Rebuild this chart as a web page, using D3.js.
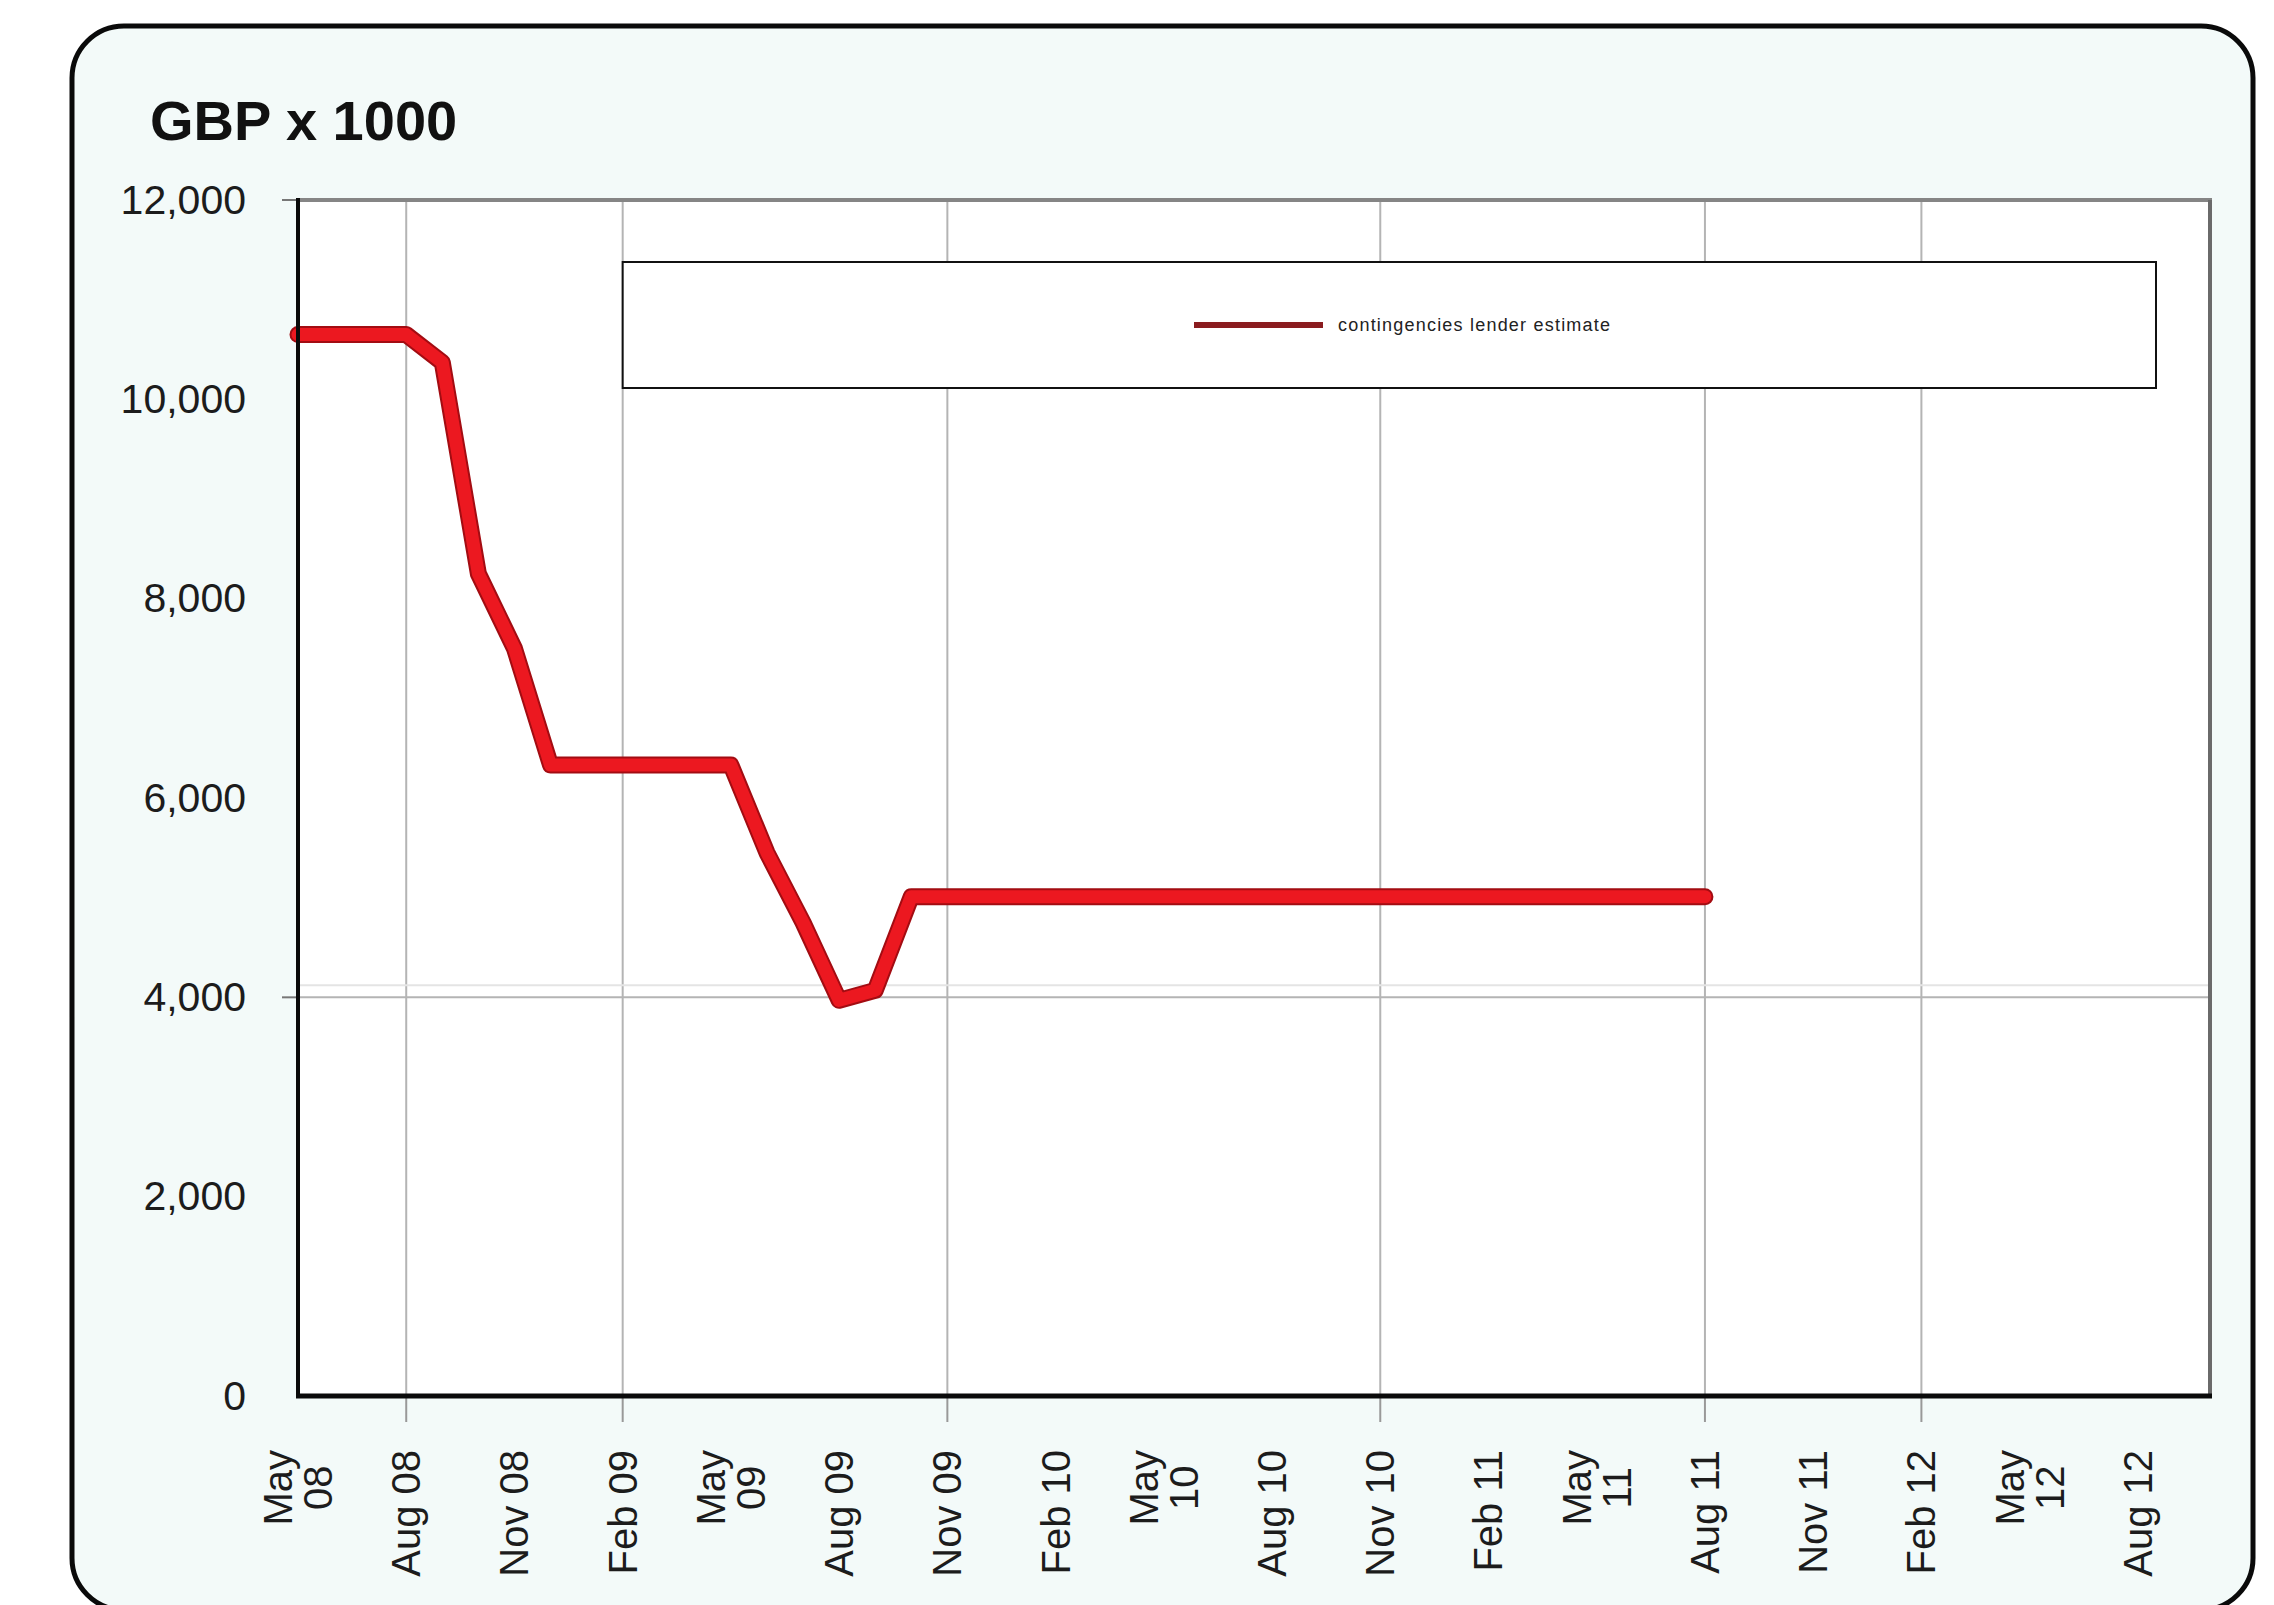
<!DOCTYPE html>
<html>
<head>
<meta charset="utf-8">
<script src="https://cdn.jsdelivr.net/npm/d3@7"></script>
<style>
  html, body { margin: 0; padding: 0; background: #ffffff; }
  svg { display: block; }
  text { font-family: "Liberation Sans", Arial, Helvetica, sans-serif; }
</style>
</head>
<body>
<script>
// ---------------- data ----------------
const months = [
  "2008-05","2008-06","2008-07","2008-08","2008-09","2008-10","2008-11","2008-12",
  "2009-01","2009-02","2009-03","2009-04","2009-05","2009-06","2009-07","2009-08",
  "2009-09","2009-10","2009-11","2009-12","2010-01","2010-02","2010-03","2010-04",
  "2010-05","2010-06","2010-07","2010-08","2010-09","2010-10","2010-11","2010-12",
  "2011-01","2011-02","2011-03","2011-04","2011-05","2011-06","2011-07","2011-08"
];
const values = [
  10650, 10650, 10650, 10650, 10370, 8250, 7500, 6330,
  6330, 6330, 6330, 6330, 6330, 5450, 4750, 3970,
  4070, 5010, 5010, 5010, 5010, 5010, 5010, 5010,
  5010, 5010, 5010, 5010, 5010, 5010, 5010, 5010,
  5010, 5010, 5010, 5010, 5010, 5010, 5010, 5010
];
const seriesName = "contingencies lender estimate";
const tickMonths = ["2008-05","2008-08","2008-11","2009-02","2009-05","2009-08","2009-11","2010-02",
  "2010-05","2010-08","2010-11","2011-02","2011-05","2011-08","2011-11","2012-02","2012-05","2012-08"];
const tickLabels = ["May\n08","Aug 08","Nov 08","Feb 09","May\n09","Aug 09","Nov 09","Feb 10",
  "May\n10","Aug 10","Nov 10","Feb 11","May\n11","Aug 11","Nov 11","Feb 12","May\n12","Aug 12"];
const gridMonths = ["2008-08","2009-02","2009-11","2010-11","2011-08","2012-02"];
const yTicks = [0, 2000, 4000, 6000, 8000, 10000, 12000];
const yGrid = [4000];
const title = "GBP x 1000";

// ---------------- helpers ----------------
const mIdx = s => { const [y, m] = s.split("-").map(Number); return (y - 2008) * 12 + (m - 5); };

const W = 2274, H = 1605;
const plot = { left: 298, right: 2210, top: 200, bottom: 1396 };

const svg = d3.select("body").append("svg").attr("width", W).attr("height", H);
svg.append("rect").attr("width", W).attr("height", H).attr("fill", "#ffffff");

// outer rounded frame
svg.append("rect")
  .attr("x", 72).attr("y", 26).attr("width", 2181).attr("height", 1584)
  .attr("rx", 52).attr("ry", 52)
  .attr("fill", "#f3faf9").attr("stroke", "#0a0a0a").attr("stroke-width", 5);

const x = d3.scaleLinear().domain([0, 53]).range([plot.left, plot.right]);
const y = d3.scaleLinear().domain([0, 12000]).range([plot.bottom, plot.top]);

// plot background
svg.append("rect")
  .attr("x", plot.left).attr("y", plot.top)
  .attr("width", plot.right - plot.left).attr("height", plot.bottom - plot.top)
  .attr("fill", "#ffffff");

// gridlines
const g = svg.append("g");
g.selectAll("line.vg").data(gridMonths).join("line")
  .attr("x1", d => x(mIdx(d))).attr("x2", d => x(mIdx(d)))
  .attr("y1", plot.top).attr("y2", plot.bottom)
  .attr("stroke", "#b4b4b4").attr("stroke-width", 2);
g.selectAll("line.hg2").data(yGrid).join("line")
  .attr("x1", plot.left).attr("x2", plot.right)
  .attr("y1", d => y(d) - 12).attr("y2", d => y(d) - 12)
  .attr("stroke", "#e4e4e4").attr("stroke-width", 2);
g.selectAll("line.hg").data(yGrid).join("line")
  .attr("x1", plot.left).attr("x2", plot.right)
  .attr("y1", d => y(d)).attr("y2", d => y(d))
  .attr("stroke", "#b4b4b4").attr("stroke-width", 2);

// legend box
const lg = svg.append("g");
lg.append("rect")
  .attr("x", x(mIdx("2009-02"))).attr("y", 262)
  .attr("width", 2156 - x(mIdx("2009-02"))).attr("height", 126)
  .attr("fill", "#ffffff").attr("stroke", "#111").attr("stroke-width", 2);
lg.append("line").attr("x1", 1194).attr("x2", 1323).attr("y1", 325).attr("y2", 325)
  .attr("stroke", "#8a1c1f").attr("stroke-width", 6);
lg.append("text").attr("x", 1338).attr("y", 331)
  .attr("font-size", 18).attr("textLength", 272).attr("lengthAdjust", "spacing")
  .attr("fill", "#222").text(seriesName);

// plot borders (top/right gray)
svg.append("line").attr("x1", plot.left).attr("x2", plot.right + 2)
  .attr("y1", plot.top).attr("y2", plot.top)
  .attr("stroke", "#858585").attr("stroke-width", 4);
svg.append("line").attr("x1", plot.right).attr("x2", plot.right)
  .attr("y1", plot.top).attr("y2", plot.bottom)
  .attr("stroke", "#6a6a6a").attr("stroke-width", 4);

// data line
const data = months.map((m, i) => ({ i: mIdx(m), v: values[i] }));
const line = d3.line().x(d => x(d.i)).y(d => y(d.v));
svg.append("path").datum(data).attr("d", line)
  .attr("fill", "none").attr("stroke", "#a30c12").attr("stroke-width", 17)
  .attr("stroke-linejoin", "round").attr("stroke-linecap", "round");
svg.append("path").datum(data).attr("d", line)
  .attr("fill", "none").attr("stroke", "#ec1820").attr("stroke-width", 13)
  .attr("stroke-linejoin", "round").attr("stroke-linecap", "round");

// y axis
const yAxis = d3.axisLeft(y).tickValues(yTicks).tickFormat(d3.format(",")).tickSize(0).tickPadding(52);
const ya = svg.append("g").attr("transform", `translate(${plot.left},0)`).call(yAxis);
ya.select(".domain").remove();
ya.selectAll("text").attr("font-size", 41).attr("fill", "#1c1c1c")
  .attr("font-family", "'Liberation Sans', Arial, sans-serif");
svg.selectAll("line.ytk").data([12000, 4000]).join("line")
  .attr("x1", plot.left - 16).attr("x2", plot.left)
  .attr("y1", d => y(d)).attr("y2", d => y(d))
  .attr("stroke", "#777").attr("stroke-width", 2);

// x ticks (visible ones)
svg.selectAll("line.xtk").data(gridMonths.filter(d => mIdx(d) <= 51)).join("line")
  .attr("x1", d => x(mIdx(d))).attr("x2", d => x(mIdx(d)))
  .attr("y1", plot.bottom).attr("y2", plot.bottom + 26)
  .attr("stroke", "#999").attr("stroke-width", 2);

// axis lines
svg.append("line").attr("x1", plot.left).attr("x2", plot.left)
  .attr("y1", plot.top - 2).attr("y2", plot.bottom + 2)
  .attr("stroke", "#0a0a0a").attr("stroke-width", 4);
svg.append("line").attr("x1", plot.left - 2).attr("x2", plot.right + 2)
  .attr("y1", plot.bottom).attr("y2", plot.bottom)
  .attr("stroke", "#0a0a0a").attr("stroke-width", 5);

// x labels (rotated, Excel-like wrapping)
const labelTop = 1450, lineGap = 40;
tickMonths.forEach((m, k) => {
  const lines = tickLabels[k].split("\n");
  const cx = x(mIdx(m));
  const grp = svg.append("g");
  const texts = lines.map((t, j) => grp.append("text")
    .attr("font-size", 40).attr("fill", "#1c1c1c").text(t));
  const maxLen = d3.max(texts, t => t.node().getComputedTextLength());
  const n = lines.length;
  texts.forEach((t, j) => {
    const off = (j - (n - 1) / 2) * lineGap;
    t.attr("text-anchor", "middle")
      .attr("transform", `translate(${cx + off},${labelTop + maxLen / 2}) rotate(-90)`)
      .attr("dy", "0.35em");
  });
});

// title
svg.append("text").attr("x", 150).attr("y", 140)
  .attr("font-size", 56).attr("font-weight", "bold").attr("fill", "#111").text(title);
</script>
</body>
</html>
